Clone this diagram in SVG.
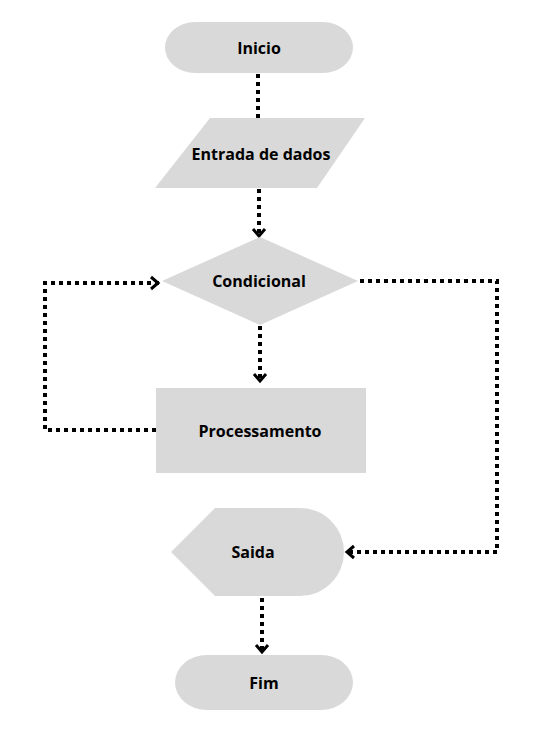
<svg xmlns="http://www.w3.org/2000/svg" width="553" height="754" viewBox="0 0 553 754">
<style>
.n{fill:#d9d9d9;stroke:none}
.t{font-family:"Open Sans","Noto Sans",sans-serif;font-weight:bold;font-size:16px;fill:#000;text-anchor:middle}
.c{fill:none;stroke:#000;stroke-width:4;stroke-dasharray:4 4}
</style>
<defs>
<marker id="arr" viewBox="0 0 14 16" refX="12" refY="8" markerWidth="14" markerHeight="16" markerUnits="userSpaceOnUse" orient="auto">
<path d="M4,2 L11,8 L4,14" fill="none" stroke="#000" stroke-width="3"/>
</marker>
</defs>
<rect width="553" height="754" fill="#fff"/>
<g id="connectors">
<path class="c" d="M258,74 V118"/>
<path class="c" d="M259,189 V237" marker-end="url(#arr)"/>
<path class="c" d="M260,326 V382" marker-end="url(#arr)"/>
<path class="c" d="M156,430 H45 V283 H159" marker-end="url(#arr)"/>
<path class="c" d="M360,281 H497 V552 H346" marker-end="url(#arr)"/>
<path class="c" d="M262,598 V653" marker-end="url(#arr)"/>
</g>
<g id="inicio">
<rect class="n" x="165" y="22" width="188" height="51" rx="30" ry="25.5"/>
<text class="t" x="259" y="54">Inicio</text>
</g>
<g id="entrada">
<polygon class="n" points="210,118 365,118 317,188 155,188"/>
<text class="t" x="261" y="160">Entrada de dados</text>
</g>
<g id="condicional">
<polygon class="n" points="260,237 358,281 260,325 162,281"/>
<text class="t" x="259" y="287">Condicional</text>
</g>
<g id="processamento">
<rect class="n" x="156" y="388" width="210" height="85"/>
<text class="t" x="260" y="437">Processamento</text>
</g>
<g id="saida">
<path class="n" d="M171,552 L215,508 L300,508 A44,44 0 0 1 300,596 L215,596 Z"/>
<text class="t" x="253" y="558">Saida</text>
</g>
<g id="fim">
<rect class="n" x="175" y="655" width="178" height="55" rx="32" ry="27.5"/>
<text class="t" x="264" y="689">Fim</text>
</g>
</svg>
